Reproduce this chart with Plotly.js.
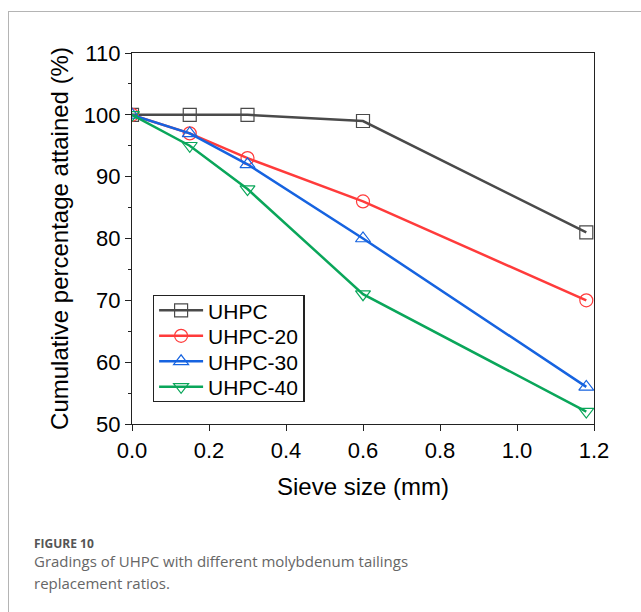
<!DOCTYPE html>
<html>
<head>
<meta charset="utf-8">
<script src="https://cdn.plot.ly/plotly-3.0.1.min.js"></script>
<style>
html,body{margin:0;padding:0;background:#fff;}
#wrap{position:relative;width:641px;height:612px;overflow:hidden;}
#chart{position:absolute;left:0;top:0;width:641px;height:612px;}
#frame{position:absolute;left:8px;top:11px;width:700px;height:700px;border-top:1px solid #b4b4b4;border-left:1px solid #b4b4b4;pointer-events:none;z-index:5;}
</style>
</head>
<body>
<div id="wrap">
<div id="chart"></div>
<div id="frame"></div>
</div>
<script>
const sieveSizes = [0, 0.15, 0.3, 0.6, 1.18];
const seriesNames = ["UHPC", "UHPC-20", "UHPC-30", "UHPC-40"];
const uhpc   = [100, 100, 100, 99, 81];
const uhpc20 = [100, 97, 93, 86, 70];
const uhpc30 = [100, 97, 92, 80, 56];
const uhpc40 = [100, 95, 88, 71, 52];
const xTicks = [0, 0.2, 0.4, 0.6, 0.8, 1.0, 1.2];
const xTickLabels = ["0.0", "0.2", "0.4", "0.6", "0.8", "1.0", "1.2"];
const yTicks = [50, 60, 70, 80, 90, 100, 110];

const seriesValues = [uhpc, uhpc20, uhpc30, uhpc40];
const colors = ["#4a4a4a", "#ff3b3b", "#1663e0", "#0aa65a"];
const symbols = ["square-open", "circle-open", "triangle-up-open", "triangle-down-open"];

const traces = seriesNames.map((name, i) => ({
  x: sieveSizes,
  y: seriesValues[i],
  name: name,
  type: "scatter",
  mode: "lines+markers",
  line: {color: colors[i], width: 2.5},
  marker: {symbol: symbols[i], size: 13, color: colors[i], line: {width: 1.2, color: colors[i]}}
}));

const layout = {
  width: 641, height: 612,
  margin: {l: 132, r: 47, t: 53, b: 188},
  paper_bgcolor: "rgba(0,0,0,0)",
  plot_bgcolor: "#fff",
  font: {family: "Liberation Sans, Arial, sans-serif", color: "#000"},
  showlegend: true,
  legend: {
    x: 0.045, y: 0.348, xanchor: "left", yanchor: "top",
    bordercolor: "#222", borderwidth: 1.3, bgcolor: "#fff",
    font: {size: 21, family: "Liberation Sans, Arial, sans-serif"},
    tracegroupgap: 0, itemwidth: 44
  },
  xaxis: {
    range: [0, 1.2],
    tickvals: xTicks, ticktext: xTickLabels,
    ticks: "outside", ticklen: 6, tickwidth: 1.3, tickcolor: "#222",
    showline: true, linecolor: "#222", linewidth: 1.3, mirror: true,
    showgrid: false, zeroline: false,
    tickfont: {size: 22},
    title: {text: "Sieve size (mm)", font: {size: 24}, standoff: 16}
  },
  yaxis: {
    range: [50, 110],
    tickvals: yTicks,
    ticks: "outside", ticklen: 6, tickwidth: 1.3, tickcolor: "#222",
    minor: {dtick: 5, ticks: "outside", ticklen: 3, tickwidth: 1.2, tickcolor: "#222", showgrid: false},
    showline: true, linecolor: "#222", linewidth: 1.3, mirror: true,
    showgrid: false, zeroline: false,
    tickfont: {size: 22},
    title: {text: "Cumulative percentage attained (%)", font: {size: 24}, standoff: 8}
  },
  annotations: [
    {xref: "paper", yref: "paper", x: -0.2165, y: -0.321, xanchor: "left", yanchor: "middle", showarrow: false,
     text: "<b>FIGURE 10</b>", font: {family: "Open Sans, sans-serif", size: 12, color: "#555"}},
    {xref: "paper", yref: "paper", x: -0.2165, y: -0.369, xanchor: "left", yanchor: "middle", showarrow: false,
     text: "Gradings of UHPC with different molybdenum tailings",
     font: {family: "Open Sans, sans-serif", size: 15, color: "#666"}},
    {xref: "paper", yref: "paper", x: -0.2165, y: -0.429, xanchor: "left", yanchor: "middle", showarrow: false,
     text: "replacement ratios.",
     font: {family: "Open Sans, sans-serif", size: 15, color: "#666"}}
  ]
};

// tighten legend row spacing to match the reference
function tightenLegend() {
  const spacing = 25.5;
  const items = document.querySelectorAll("#chart .legend .traces");
  if (!items.length) return;
  let firstY = null;
  items.forEach((g, i) => {
    const t = g.getAttribute("transform") || "";
    const m = t.match(/translate\(\s*([-\d.]+)[ ,]+([-\d.]+)\s*\)/);
    if (!m) return;
    const x = parseFloat(m[1]);
    const y = parseFloat(m[2]);
    if (firstY === null) firstY = y - 6;
    g.setAttribute("transform", "translate(" + x + "," + (firstY + i * spacing) + ")");
  });
  const bg = document.querySelector("#chart .legend rect.bg");
  if (bg) bg.setAttribute("height", 106);
}

Plotly.newPlot("chart", traces, layout, {displayModeBar: false, responsive: false}).then(tightenLegend);
</script>
</body>
</html>
